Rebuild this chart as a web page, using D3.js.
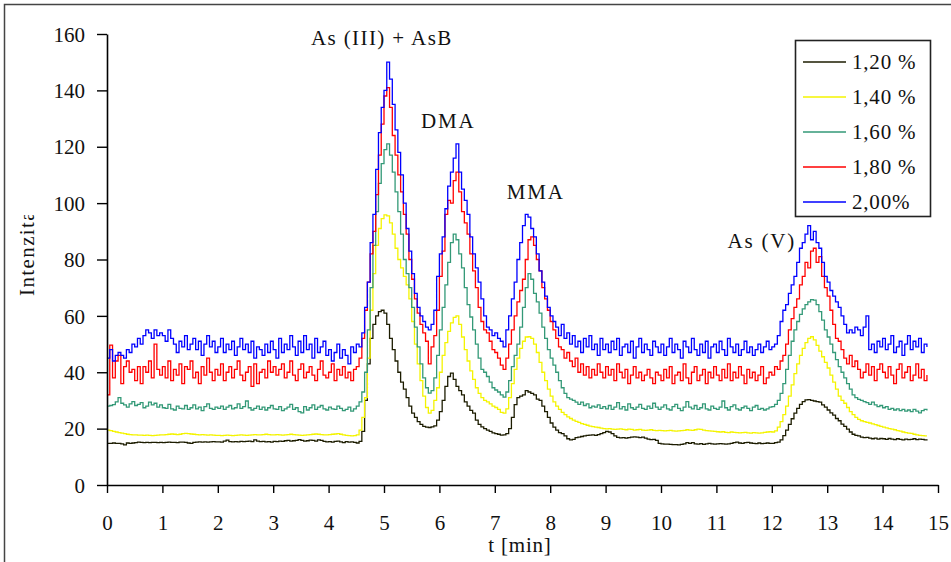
<!DOCTYPE html>
<html>
<head>
<meta charset="utf-8">
<script src="https://cdn.jsdelivr.net/npm/d3@7"></script>
<style>
  html, body { margin: 0; padding: 0; background: #fff; }
  svg text { font-family: "Liberation Serif", "Times New Roman", serif; fill: #111; }
</style>
</head>
<body>
<svg id="chart" width="951" height="562"></svg>
<script>
// Chromatograms of arsenic species at five eluent concentrations.
// Detector signal sampled every 0.05 min from t = 0 to 14.8 min.
const STEP = 0.05;

const seriesNames = ["1,20 %", "1,40 %", "1,60 %", "1,80 %", "2,00%"];

const c120 = [
  14.8,14.8,14.9,14.8,14.8,14.6,14.2,14.9,14.8,14.9,15.0,15.2,15.1,15.0,15.1,15.0,15.1,15.1,15.0,15.1,
  15.0,15.1,15.2,15.1,15.1,15.0,15.2,15.2,15.1,14.9,14.8,15.1,15.2,15.3,15.2,15.3,15.2,15.3,15.4,15.3,
  15.3,15.2,15.6,15.9,15.4,15.3,15.4,15.3,15.5,15.4,15.5,15.6,15.4,16.0,15.6,15.4,15.5,15.3,15.4,15.2,
  15.5,15.4,15.6,15.5,15.7,15.8,15.6,15.7,15.8,16.1,15.8,15.6,15.7,15.9,15.8,15.6,16.0,15.8,15.5,15.3,
  15.4,15.2,15.5,15.6,15.3,15.0,15.4,15.2,15.3,15.1,14.9,15.5,19,30,43,52,57,60,61.5,62,
  61,57,52,48,44,40,36.5,34,31,28,25.5,24,22.5,21.5,20.8,20.5,20.4,20.6,21,23,
  26,30,35,38.5,39.7,37.5,35,33.5,32,29.5,28,26.5,25.5,23,21.5,20.6,20,19.5,19,18.5,
  18.2,18,17.7,17.8,18.2,20,24,28.5,31,31.5,32,33.5,33,32.5,32,30.5,30,28,26,24,
  22,20.5,19.5,18.6,18.2,17.4,16.4,16,16.2,16.8,17,17.2,17.4,17.6,17.7,17.8,17.6,17.9,18.2,18.6,
  19,18.8,18.2,17.4,16.9,16.7,16.8,16.6,16.8,17.0,17.1,17.0,16.8,17.0,16.6,16.3,16.1,16.2,15.8,14.8,
  14.6,14.5,14.5,14.4,14.3,14.3,14.2,14.4,14.6,15.0,14.8,15.0,14.6,14.5,14.7,14.4,14.6,14.8,14.6,14.5,
  14.6,14.7,14.6,14.5,14.6,14.8,15.0,15.2,14.9,14.8,15.0,15.1,14.9,14.8,14.7,14.9,14.7,14.8,14.9,14.8,
  14.8,15.0,15.2,16,17.5,19.5,21.5,23.5,25.5,27.2,28.6,29.6,30.2,30.3,30.0,29.8,29.6,29.4,28.4,27.6,
  26.6,25.6,24.8,23.6,22.8,21.6,20.8,19.8,18.8,18.0,17.6,17.4,17.0,16.8,16.9,16.6,16.4,16.6,16.3,16.5,
  16.4,16.2,16.5,16.3,16.1,16.4,16.2,16.0,16.3,16.1,16.2,16.4,16.1,16.3,16.2,16.0,16.2
];

const c140 = [
  19.5,19.3,19.0,18.8,18.6,18.4,18.2,18.0,17.9,17.8,17.8,17.7,17.7,17.6,17.7,17.6,17.5,17.6,17.7,17.8,
  17.8,17.9,18.0,18.1,18.0,17.9,18.0,18.2,18.3,18.2,18.1,18.0,17.9,17.8,17.9,17.8,17.7,17.8,17.7,17.6,
  17.6,17.5,17.6,17.7,17.6,17.5,17.6,17.7,17.8,17.7,17.6,17.7,17.8,17.9,17.8,17.8,17.9,18.0,17.9,17.8,
  17.8,17.9,17.8,17.7,17.8,17.9,18.0,17.9,17.8,17.7,17.6,17.7,17.8,17.9,18.0,18.1,18.0,17.9,17.8,17.8,
  17.9,18.0,18.1,18.2,18.0,17.8,17.6,17.5,17.4,17.5,17.8,19.5,24,31,45,62,75,85,91,94.5,
  95.8,95.5,93,89,84,80,77,74,71,66,58,50,43,37,31.5,27.5,25.5,26.5,30,34.5,
  40,46,50.5,54.5,57.5,59.5,60,57,52.5,48,44,40.5,37.5,34.5,32.5,31,30,29.5,28.8,28,
  27.5,26.8,25.8,25.5,27,31,36,41,45,48.5,51,52.5,52.6,52,50,47,43.5,40,37,34,
  31.5,29.5,28,26.8,25.8,25,24.2,23.6,23,22.6,22.2,21.8,21.5,21.2,20.9,20.7,20.5,20.4,20.2,20.0,
  19.9,20.0,19.8,19.7,19.8,19.9,19.7,19.6,19.8,19.7,19.5,19.6,19.7,19.5,19.4,19.5,19.6,19.4,19.3,19.4,
  19.3,19.2,19.3,19.4,19.2,19.1,19.2,19.3,19.4,19.6,19.5,19.4,19.6,19.8,19.7,19.5,19.3,19.2,19.1,19.0,
  18.9,18.8,18.9,18.7,18.6,18.8,18.7,18.6,18.5,18.6,18.7,18.5,18.4,18.6,18.5,18.4,18.5,18.7,18.8,18.9,
  18.8,19.2,20.5,22.5,25,28,31.5,35.5,39.5,43,46,48.5,50.5,52,52.6,51.5,49.5,47.5,45.5,43.5,
  41.5,39,36.5,34,31.5,30,29,27.5,26,25,24,23.3,22.8,22.5,22.2,22.0,21.7,21.4,21.1,20.8,
  20.5,20.3,20.0,19.8,19.6,19.3,19.1,18.8,18.6,18.4,18.3,18.0,17.8,17.6,17.5,17.4,17.4
];

const c160 = [
  28.0,28.2,28.5,29.5,31.0,29.0,28.4,27.6,28.8,29.6,28.2,28.6,29.2,27.4,28.0,29.4,28.4,29.0,27.6,28.4,
  27.4,27.2,28.6,27.0,26.6,28.0,27.2,27.0,28.2,26.8,27.4,28.4,27.0,27.6,26.4,27.8,28.8,27.2,26.8,27.6,
  27.2,28.0,26.8,27.6,28.2,27.0,27.4,28.8,27.2,27.8,29.8,27.4,26.6,27.2,28.0,26.8,27.6,26.6,27.4,28.2,
  27.0,26.8,27.8,26.4,27.0,27.6,28.6,26.8,27.4,26.0,25.6,27.8,26.6,27.4,28.4,26.8,27.6,28.2,27.0,26.6,
  27.6,27.0,26.8,28.0,27.2,26.4,26.8,27.6,26.2,27.0,28.0,29.5,33,40,55,70,85,97,107,114,
  119,121,117,111,104,97,89,80,75,70,63,56,49,43,38,34.5,32.6,33.5,38,46,
  55,63,71,79,86,89,87,82,77,70,64,59.6,55,50,45,41,40,38.5,36.5,34.5,
  33.7,33,32,31.2,33,37,42,46,50,56,63,70,75,73,68,65,61,56,52,48,
  45,42.5,40,37,34.5,32.5,31,30.5,30,29.4,28.6,29.4,28.2,28.8,27.4,28.0,27.6,28.4,27.2,27.8,
  27.0,28.2,26.8,27.6,29.2,27.0,27.8,26.6,28.8,27.4,26.8,27.6,28.6,27.2,26.8,28.0,27.2,29.0,27.6,26.8,
  27.6,28.4,27.0,26.6,27.8,28.6,27.2,26.4,27.6,29.6,27.6,27.0,28.2,26.8,27.4,28.8,27.0,26.6,28.0,27.2,
  26.8,27.6,29.8,27.4,26.6,27.8,28.4,27.0,26.6,27.4,28.0,27.2,26.4,27.6,28.2,26.8,27.2,26.6,27.0,27.6,
  27.8,28.6,30.0,32.5,36,41,46,51,55,58,60.5,62.5,64,65,65.8,65.6,64,61.5,58.5,55,
  52.5,50,47,44.5,42,40,38,36,34,32,31,30.4,30.0,29.6,29.2,28.6,29.4,28.4,27.8,28.2,
  27.4,27.8,26.8,27.2,26.6,27.0,26.4,26.8,26.2,26.6,26.0,26.8,26.2,25.6,26.4,26.8,26.4
];

const c180 = [
  32,49.6,38,44,46,36,42,44,40,41,37,42,36,42,40,44,38,50,41,39,
  42,38,44,37,41,39,43,36,42,41,44,38,40,36,42,39,45,40,37,41,
  39,43,37,40,42,38,41,44,39,37,40,42,35,43,36,40,41,38,44,40,
  42,39,41,43,38,40,44,39,37,41,43,38,40,42,39,37,41,44,39,38,
  40,43,37,41,39,42,38,40,37,41,42,45,52,62,72,82,90,103,117,128,
  138,141,134,124,117,110,104,96,89,80,73,66,61,57,54,51,43,49,53,62,
  74,83,96,101,100,108,111,104,97,93,89,82,76,70,63,58,55,54,51,48,
  47,45,42.5,41,45,50,55,60,65,69,73,80,87,88,85,80,76,70,66,62,
  58,55,52,49,48,45,47,44,42,45,40,43,39,42,38,41,39,43,40,38,
  42,39,41,37,43,40,38,41,36,39,42,38,40,37,39,41,38,36,40,39,
  37,41,38,42,36,39,40,37,43,38,36,40,42,37,39,41,36,40,38,42,
  39,37,41,38,43,37,40,38,42,39,36,41,38,40,37,39,42,36,38,40,
  39,42,41,44,46,50,55,59,63,66,71,74,79,77,83,84,79,81,74,70,
  67,62,57,52,51,48,45,43,46,42,44,41,38,40,43,39,42,37,41,43,
  40,38,42,39,36,41,43,38,40,42,37,39,43,38,41,37,39
];

const c200 = [
  45,48,44,46,47,46,45,48,47,50,49,52,50,53,55,54,52,55,53,54,
  53,51,55,52,50,47,51,49,53,48,50,52,48,51,46,50,53,49,51,47,
  49,52,47,50,48,51,46,49,52,48,50,47,51,45,49,48,46,50,47,51,
  48,45,52,47,50,48,53,49,46,51,47,53,48,50,45,52,47,49,51,46,
  48,44,47,50,45,48,46,43,49,47,50,49,54,63,72,86,96,112,125,134,
  140,150,144,135,126,118,110,100,91,83,75,68,63,60,58,56,55,57,62,74,
  82,88,98,106,111,116,121,111,105,101,96,88,82,77,72,66,60,56,55,53,
  54,52,51,49,55,60,66,72,80,86,92,96,95,91,88,82,76,72,67,63,
  60,58,56,53,57,52,54,50,53,49,51,47,52,49,53,48,50,46,52,48,
  50,47,51,48,52,46,49,50,47,51,45,49,52,47,50,48,46,51,49,47,
  50,46,49,52,47,50,48,45,51,49,47,52,48,46,50,47,51,45,49,50,
  47,51,48,46,52,49,47,50,46,48,51,47,49,46,48,50,47,49,51,48,
  49,50,53,58,62,64,68,71,74,79,84,86,89,92,87,90,86,84,79,74,
  72,69,67,65,63,60,57,54,55,54,56,55,53,56,60,48,50,47,51,49,
  52,48,50,53,47,49,51,46,50,53,48,51,49,52,47,50,49
];

const xTickValues = [0,1,2,3,4,5,6,7,8,9,10,11,12,13,14,15];
const yTickValues = [0,20,40,60,80,100,120,140,160];
const peakNames = ["As (III) + AsB", "DMA", "MMA", "As (V)"];

// ---- layout & style ----
const W = 951, H = 562;
const margin = { left: 107, top: 34, right: 13, bottom: 77 };
const colors = ["#1c1c00", "#f4f400", "#339977", "#ff0000", "#0000ff"];
// where each peak name sits, in data units (t, intensity) of its centre/baseline
const peakLabelPos = [[4.96, 156.2], [6.16, 126.8], [7.74, 101.6], [11.82, 84.0]];

const svg = d3.select("#chart");

// outer frame
svg.append("rect")
  .attr("x", 4.5).attr("y", 4.5).attr("width", 980).attr("height", 620)
  .attr("fill", "none").attr("stroke", "#444").attr("stroke-width", 1.5);

const x = d3.scaleLinear().domain([0, 15]).range([margin.left, W - margin.right]);
const y = d3.scaleLinear().domain([0, 160]).range([H - margin.bottom, margin.top]);

const series = [c120, c140, c160, c180, c200];
const line = d3.line()
  .x((d, i) => x(i * STEP))
  .y(d => y(d))
  .curve(d3.curveStepAfter);

const gLines = svg.append("g");
series.forEach((vals, k) => {
  gLines.append("path")
    .datum(vals)
    .attr("fill", "none")
    .attr("stroke", colors[k])
    .attr("stroke-width", 1.3)
    .attr("d", line);
});

// axes
const yAxis = d3.axisLeft(y).tickValues(yTickValues).tickSize(10).tickPadding(12).tickSizeOuter(0);
const gy = svg.append("g").attr("transform", `translate(${margin.left},0)`).call(yAxis);
gy.select(".domain").attr("stroke", "#000").attr("stroke-width", 1.6);
gy.selectAll(".tick line").attr("stroke", "#000").attr("stroke-width", 1.4);
gy.selectAll(".tick text").attr("font-size", 21).attr("fill", "#111")
  .attr("font-family", "Liberation Serif, serif").attr("dy", "0.34em");

const xAxis = d3.axisBottom(x).tickValues(xTickValues).tickSize(8).tickSizeOuter(0);
const gx = svg.append("g").attr("transform", `translate(0,${H - margin.bottom})`).call(xAxis);
gx.select(".domain").attr("stroke", "#000").attr("stroke-width", 1.6);
gx.selectAll(".tick line").attr("stroke", "#000").attr("stroke-width", 1.4);
gx.selectAll(".tick text").attr("font-size", 21).attr("fill", "#111")
  .attr("font-family", "Liberation Serif, serif").attr("y", 45).attr("dy", 0);

// axis titles
svg.append("text")
  .attr("x", 520).attr("y", 552)
  .attr("text-anchor", "middle").attr("font-size", 21)
  .attr("letter-spacing", 0.8)
  .text("t [min]");

svg.append("clipPath").attr("id", "ylab-clip")
  .append("rect").attr("x", 0).attr("y", 215).attr("width", 60).attr("height", 200);
svg.append("g").attr("clip-path", "url(#ylab-clip)")
  .append("text")
  .attr("transform", "translate(34,296) rotate(-90)")
  .attr("font-size", 21).attr("letter-spacing", 1.4)
  .text("Intenzita");

// peak names
peakNames.forEach((name, i) => {
  svg.append("text")
    .attr("x", x(peakLabelPos[i][0])).attr("y", y(peakLabelPos[i][1]))
    .attr("text-anchor", "middle").attr("font-size", 21)
    .attr("letter-spacing", i === 0 ? 1.4 : 1.8)
    .text(name);
});

// legend
const lg = svg.append("g");
lg.append("rect")
  .attr("x", 795.5).attr("y", 40.5).attr("width", 135).attr("height", 176)
  .attr("fill", "#fff").attr("stroke", "#222").attr("stroke-width", 1.6);
seriesNames.forEach((name, k) => {
  const cy = 62 + k * 35;
  lg.append("line")
    .attr("x1", 803).attr("x2", 846).attr("y1", cy).attr("y2", cy)
    .attr("stroke", colors[k]).attr("stroke-width", 1.3);
  lg.append("text")
    .attr("x", 852).attr("y", cy + 7)
    .attr("font-size", 21).attr("letter-spacing", 0.8)
    .text(name);
});
</script>
</body>
</html>
